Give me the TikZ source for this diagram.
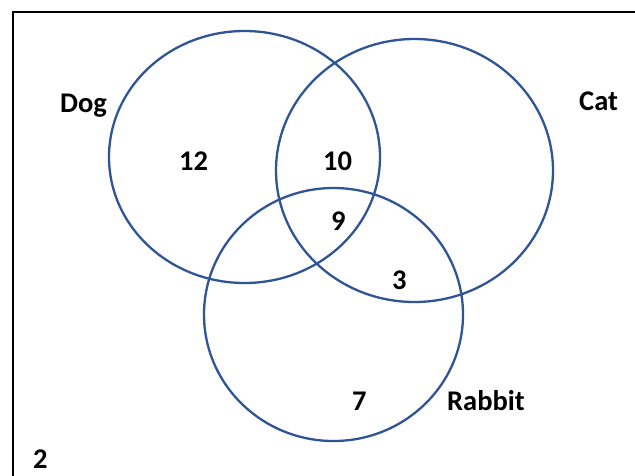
\documentclass[tikz,border=0pt]{standalone}
\usepackage{fontspec}
\setmainfont{Carlito}
\usetikzlibrary{shapes.geometric}
\definecolor{vennblue}{HTML}{2F5597}
\tikzset{
  venn/.style={ellipse, draw=vennblue, line width=2.3pt, inner sep=0pt},
  lbl/.style={anchor=base west, inner sep=0pt, font=\fontsize{28.5}{30}\selectfont\bfseries},
}
\begin{document}
\begin{tikzpicture}[x=1pt,y=-1pt]
\useasboundingbox (0,0) rectangle (635,475);
\fill[white] (0,0) rectangle (635,475);
\draw[line width=2pt] (13,480) -- (13,12) -- (640,12);
\node[venn, minimum width=271pt, minimum height=252pt] (dog) at (244.5,157) {};
\node[venn, minimum width=277pt, minimum height=263pt] (cat) at (414.5,170.5) {};
\node[venn, minimum width=259pt, minimum height=253pt] (rabbit) at (333.5,314.5) {};
\node[lbl] (tdog) at (60,112) {Dog};
\node[lbl] (tcat) at (579,110) {Cat};
\node[lbl] (trabbit) at (447,410) {Rabbit};
\node[lbl] (n12) at (179,170) {12};
\node[lbl] (n10) at (323,170) {10};
\node[lbl] (n9) at (331,230) {9};
\node[lbl] (n3) at (392,289) {3};
\node[lbl] (n7) at (352,410) {7};
\node[lbl] (n2) at (33,468) {2};
\end{tikzpicture}
\end{document}
